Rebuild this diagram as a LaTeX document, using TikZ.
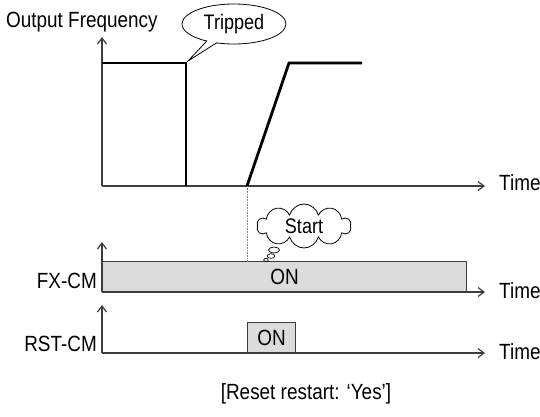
\documentclass[tikz,border=0pt]{standalone}
\usepackage{fontspec}
\setmainfont{Liberation Sans}[FakeStretch=0.86]
\usetikzlibrary{arrows.meta,positioning,shapes.callouts,shapes.symbols}
\definecolor{axisgray}{RGB}{60,60,60}
\definecolor{barfill}{RGB}{220,220,220}
\tikzset{
  axis/.style={draw=axisgray,line width=1.4pt,-{Straight Barb[length=6pt,width=9pt,line width=1.2pt]}},
  freq/.style={draw=black,line width=2.8pt},
  lbl/.style={font=\fontsize{22}{26}\selectfont,inner sep=0pt},
  onbox/.style={draw=axisgray,fill=barfill,line width=1pt,font=\fontsize{22}{26}\selectfont,
    inner sep=0pt,anchor=south west},
  bubble/.style={draw=black,fill=white,line width=0.8pt,font=\fontsize{21}{25}\selectfont,inner sep=0pt},
  puff/.style={draw=black,fill=white,line width=0.7pt},
}
\begin{document}
\begin{tikzpicture}[x=1pt,y=-1pt]
  \useasboundingbox (0,0) rectangle (540,416);
  % output frequency
  \coordinate (o1) at (102,186);
  \coordinate (y1) at (102,37);
  \coordinate (x1) at (485,186);
  \draw[axis] (o1) -- (y1);
  \draw[axis] (o1) -- (x1);
  \coordinate (f0) at (102,63);
  \coordinate (f1) at (186,63);
  \coordinate (f2) at (186,186);
  \coordinate (f3) at (247,186);
  \coordinate (f4) at (289,63);
  \coordinate (f5) at (362,63);
  \draw[freq] (f0) -- (f1) -- (f2);
  \draw[freq] (f3) -- (f4) -- (f5);
  \node[lbl,anchor=base west] (ofreq) at (6,27) {Output Frequency};
  \node[lbl,anchor=base west] (t1) at (499,190) {Time};
  \node[bubble,ellipse callout,callout pointer arc=12,minimum width=104pt,minimum height=40pt,
    callout absolute pointer={(188,61)}] (trip) at (234,24) {Tripped};
  % FX-CM
  \coordinate (o2) at (102,292);
  \coordinate (y2) at (102,242);
  \coordinate (x2) at (485,292);
  \node[onbox,minimum width=364pt,minimum height=30pt] (fxon) at (o2) {ON};
  \draw[axis] (o2) -- (y2);
  \draw[axis] (o2) -- (x2);
  \coordinate (d1) at (247,262);
  \draw[densely dotted,gray,line width=0.6pt] (f3) -- (d1);
  \node[bubble,cloud,cloud puffs=10,aspect=2.1,minimum width=94pt,minimum height=44pt] (start) at (304,226) {Start};
  \draw[puff] (274,250) ellipse (5.5pt and 3pt);
  \draw[puff] (271,256) ellipse (3.8pt and 2.3pt);
  \draw[puff] (266,260) ellipse (2.3pt and 1.6pt);
  \node[lbl,anchor=base east] (fx) at (97,288) {FX-CM};
  \node[lbl,anchor=base west] (t2) at (499,298) {Time};
  % RST-CM
  \coordinate (o3) at (102,353);
  \coordinate (y3) at (102,305);
  \coordinate (x3) at (485,353);
  \node[onbox,minimum width=48pt,minimum height=30pt] (rston) at (247,353) {ON};
  \draw[axis] (o3) -- (y3);
  \draw[axis] (o3) -- (x3);
  \node[lbl,anchor=base east] (rst) at (97,351) {RST-CM};
  \node[lbl,anchor=base west] (t3) at (499,359) {Time};
  \node[lbl,anchor=base] (cap) at (306,399) {[Reset restart: ‘Yes’]};
\end{tikzpicture}
\end{document}
